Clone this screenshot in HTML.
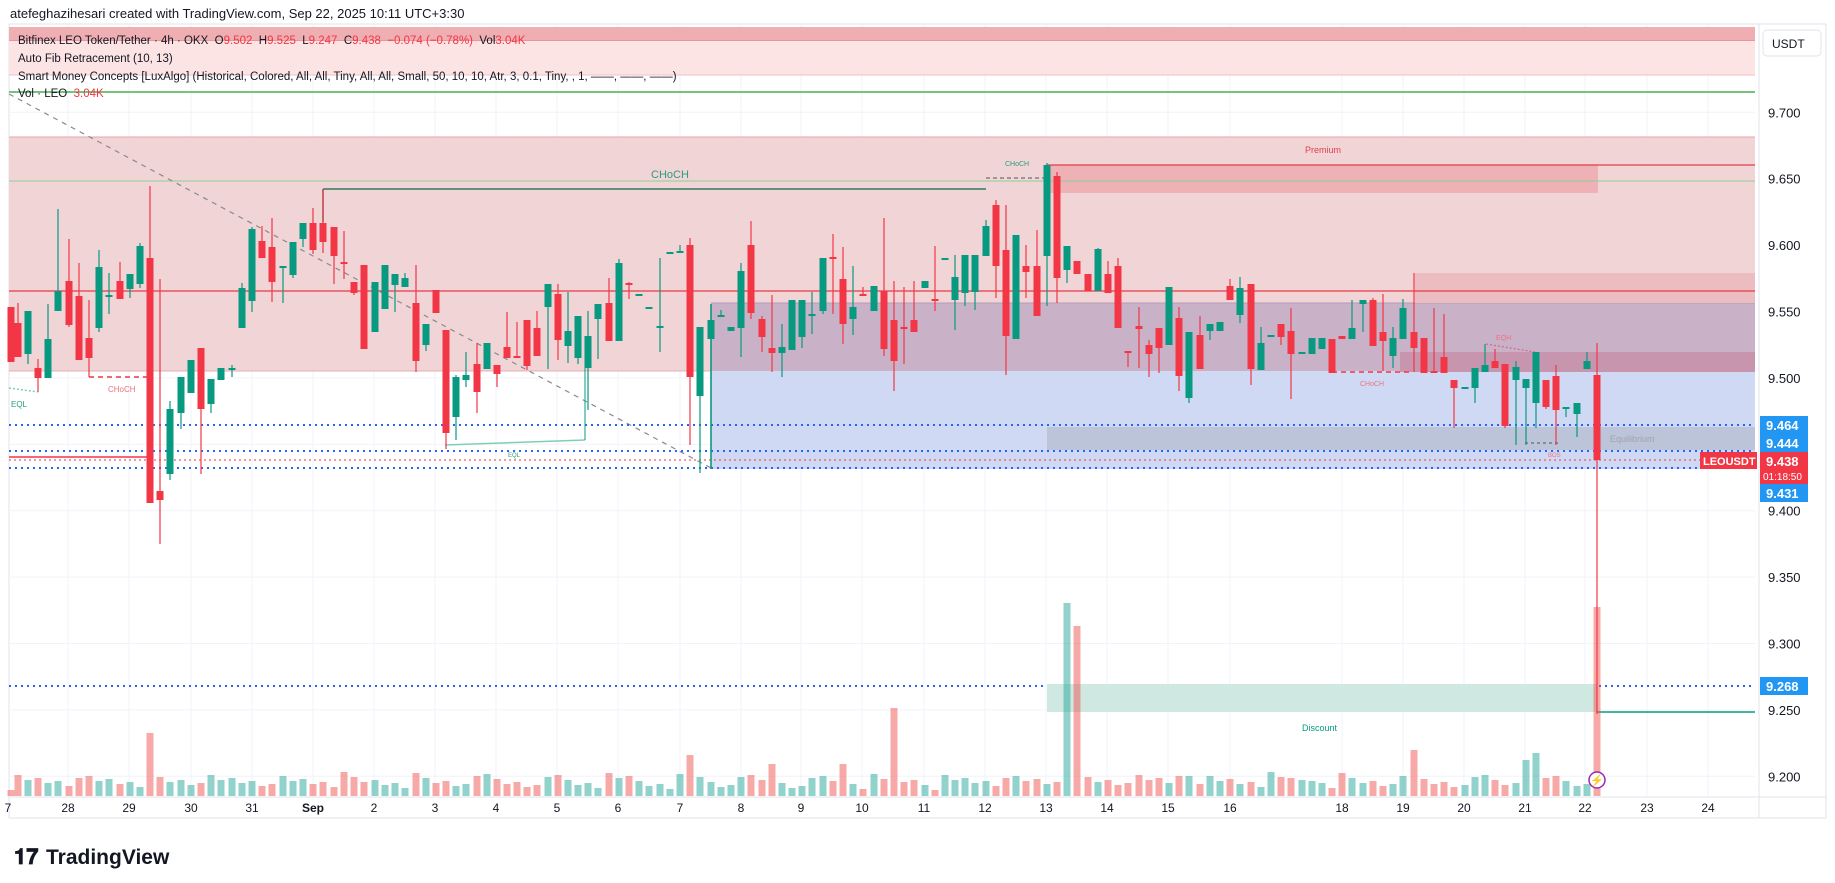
<!DOCTYPE html>
<html><head><meta charset="utf-8">
<style>
html,body{margin:0;padding:0;background:#fff;}
body{width:1835px;height:883px;overflow:hidden;position:relative;font-family:"Liberation Sans",sans-serif;}
svg{position:absolute;left:0;top:0;}
</style></head>
<body>
<svg id="s" width="1835" height="883" xmlns="http://www.w3.org/2000/svg" font-family="Liberation Sans, sans-serif"></svg>
<script>
const S=document.getElementById('s');let h='';
function r(x,y,w,hh,f,extra){h+=`<rect x="${x}" y="${y}" width="${w}" height="${hh}" fill="${f}" ${extra||''}/>`;}
function l(x1,y1,x2,y2,c,w,extra){h+=`<line x1="${x1}" y1="${y1}" x2="${x2}" y2="${y2}" stroke="${c}" stroke-width="${w||1}" ${extra||''}/>`;}
function t(x,y,s,c,fs,extra){h+=`<text x="${x}" y="${y}" fill="${c}" font-size="${fs}" ${extra||''}>${s}</text>`;}
const R=1755,L=9;
r(0,0,1835,883,'#fff');
l(9,24,1826,24,'#e0e3eb');l(1826,24,1826,818,'#e0e3eb');l(9,24,9,818,'#e0e3eb');l(9,818,1826,818,'#e0e3eb');
l(1759,24,1759,818,'#e0e3eb');l(9,797,1826,797,'#e0e3eb');
const dates=[[8,'7'],[68,'28'],[129,'29'],[191,'30'],[252,'31'],[313,'Sep'],[374,'2'],[435,'3'],[496,'4'],[557,'5'],[618,'6'],[680,'7'],[741,'8'],[801,'9'],[862,'10'],[924,'11'],[985,'12'],[1046,'13'],[1107,'14'],[1168,'15'],[1230,'16'],[1342,'18'],[1403,'19'],[1464,'20'],[1525,'21'],[1585,'22'],[1647,'23'],[1708,'24']];
dates.forEach(d=>{if(d[0]>10)l(d[0],24,d[0],797,'#f0f3fa');});
const Y=p=>112.3+(9.7-p)*1328;
[9.7,9.65,9.6,9.55,9.5,9.45,9.4,9.35,9.3,9.25,9.2].forEach(p=>l(L,Y(p),R,Y(p),'#f0f3fa'));
r(L,27,R-L,14,'#eeaeb2');l(L,41,R,41,'#e57c84');
r(L,41,R-L,34,'#fde4e4');l(L,75,R,75,'#f2c2c5');
l(L,92,R,92,'#4caf50',1.5);
r(L,137,R-L,234,'#f1d4d6');l(L,137,R,137,'#e8a5aa');l(L,371,R,371,'#e3b0b4');
r(711,371,R-711,98,'#d0d9f3');
r(711,303,R-711,68,'#c9b2c8');
l(711,303,R,303,'#b79ab8');
r(1415,273,R-1415,30,'#ebbcc0');
r(1400,352,R-1400,20,'#c795ae');
r(1047,165,1598-1047,28,'#eeb2b6');
l(1047,165,R,165,'#e53946',1.2);
l(L,181,R,181,'#8fcf95',1);
l(323,189,986,189,'#2e7d5e',1.5);l(323,189,323,222,'#2e7d5e',1.5);
l(986,178,1047,178,'#555',1,'stroke-dasharray="4,3"');
t(651,178,'CHoCH','#2a9d7f',11);t(1005,166,'CHoCH','#2a9d7f',7);
t(1305,153,'Premium','#e04050',9);
l(L,291,R,291,'#e53946',1.3);
r(1047,427,R-1047,23,'rgba(120,123,134,0.22)');
t(1610,442,'Equilibrium','#a0a3ad',9);
l(9,94,711,468,'#8a8a8a',1.2,'stroke-dasharray="5,5"');
l(L,425,R,425,'#2962ff',2,'stroke-dasharray="2,4"');
l(L,451,R,451,'#2962ff',2,'stroke-dasharray="2,4"');
l(L,468,R,468,'#2962ff',2,'stroke-dasharray="2,4"');
l(L,460,R,460,'#f23645',1,'stroke-dasharray="2,3"');
l(L,457,147,457,'#f23645',1.5);
l(L,686,R,686,'#2962ff',2,'stroke-dasharray="2,4"');
r(1047,684,1597-1047,28,'#cfe9e2');
t(1302,731,'Discount','#089981',9);
l(1597,712,R,712,'#089981',1.5);
l(89,377,147,377,'#f23645',1.5,'stroke-dasharray="5,4"');t(108,392,'CHoCH','#f07080',8);
l(9,388,38,392,'#7fcfb8',1.5,'stroke-dasharray="2,2"');t(11,407,'EQL','#2a9d7f',8);
l(445,445,585,440,'#7fcfb8',1.5);l(585,351,585,440,'#089981',1);
t(508,457,'EQL','#2a9d7f',6);
l(711,304,711,469,'#089981',1.5);
l(1332,372,1410,372,'#f23645',1.5,'stroke-dasharray="5,4"');t(1360,386,'CHoCH','#f07080',7);
l(1486,344,1535,352,'#e06080',1.2,'stroke-dasharray="2,2"');t(1496,340,'EQH','#f07080',7);
l(1525,443,1560,443,'#555',1,'stroke-dasharray="3,3"');t(1548,457,'BOS','#f07080',6);
const C=[[11,307,362,307,362,0],[18,323,357,303,357,0],[28,311,354,311,364,1],[38,368,378,359,392,0],[48,339,378,304,378,1],[58,291,311,209,311,1],[69,281,325,239,327,0],[79,296,360,263,360,0],[89,338,358,300,377,0],[99,267,328,250,332,1],[109,295,297,273,314,1],[120,281,299,262,299,0],[130,274,289,274,298,1],[140,246,284,243,288,1],[150,258,503,186,503,0],[160,491,500,279,544,0],[170,409,474,401,480,1],[181,377,413,377,429,1],[191,360,393,360,393,1],[201,348,409,348,474,0],[211,379,404,379,413,1],[221,368,380,368,380,1],[232,368,370,365,377,1],[242,288,328,283,328,1],[252,229,301,227,312,1],[262,241,258,226,258,0],[272,247,282,218,302,0],[283,266,268,266,303,1],[293,242,275,242,278,1],[303,223,239,223,247,1],[313,223,250,208,254,0],[323,223,242,189,253,0],[334,227,256,227,284,0],[344,262,264,231,279,0],[354,282,293,282,295,0],[364,265,349,265,349,0],[375,282,332,282,332,1],[385,265,309,265,309,1],[395,274,285,274,312,1],[405,278,287,273,287,1],[416,303,361,265,372,0],[426,324,345,324,351,1],[436,290,313,290,313,0],[446,330,433,330,449,0],[456,377,417,375,440,1],[466,375,380,352,387,1],[477,364,392,343,413,0],[487,343,369,343,369,1],[497,365,374,365,387,0],
[507,347,358,312,358,0],[517,356,358,322,358,0],[527,320,366,320,370,0],[537,328,356,311,356,0],[548,284,307,284,369,1],[558,294,340,284,360,0],[568,331,346,292,363,1],[578,316,358,316,364,1],[588,336,368,311,410,1],[598,304,319,304,359,1],[609,303,341,278,341,0],[619,263,341,259,341,1],[629,283,285,282,299,0],[639,294,296,294,296,1],[649,307,309,307,309,1],[660,326,328,258,352,1],[670,252,254,252,254,1],[680,251,253,245,253,1],[690,245,377,238,445,0],[700,327,396,327,473,1],[711,320,339,304,469,1],[721,315,317,310,317,1],[731,327,331,327,331,1],[741,271,328,263,357,1],[751,245,313,221,319,0],[762,319,337,316,352,0],[772,348,353,295,372,0],[782,347,353,324,377,1],[792,300,350,300,350,1],[802,300,337,300,348,1],[812,314,316,292,334,1],[823,258,311,258,314,1],[833,257,259,234,314,0],[843,279,324,247,344,0],[853,307,319,266,335,1],[863,294,296,287,296,0],[874,286,311,286,311,1],[884,291,349,218,356,0],[894,320,361,281,391,0],[904,327,329,287,364,0],[914,320,332,281,332,0],[925,281,288,281,288,1],[935,299,301,246,311,0],[945,258,260,258,260,1],[955,277,300,255,330,1],[965,255,293,255,306,1],[975,255,292,255,310,1],
[986,226,256,220,256,1],[996,205,266,200,298,0],[1006,250,336,205,375,0],[1016,235,339,235,339,1],[1026,266,272,245,298,0],[1037,266,316,230,316,0],[1047,165,256,163,306,1],[1057,176,278,172,303,0],[1067,246,270,246,283,1],[1077,261,274,261,274,0],[1088,274,291,274,291,0],[1098,249,291,248,291,1],[1108,274,293,261,293,0],[1118,266,328,258,328,0],[1128,351,353,351,367,0],[1139,326,329,307,368,0],[1149,345,354,340,377,0],[1159,328,348,328,373,0],[1169,287,345,287,345,1],[1179,318,376,307,391,0],[1189,332,398,332,403,1],[1200,335,369,316,369,0],[1210,324,331,324,340,1],[1220,322,331,322,331,1],[1230,286,300,279,300,0],[1240,288,315,277,323,1],[1251,284,369,284,385,0],[1261,343,370,327,370,1],[1271,335,337,335,337,1],[1281,324,337,324,345,0],[1291,331,354,308,399,0],[1302,352,354,352,354,1],[1312,338,354,338,354,1],[1322,338,349,338,349,1],[1332,339,373,339,373,0],[1342,336,339,336,339,0],[1352,328,339,300,339,1],[1363,300,304,300,332,1],[1373,300,346,298,346,0],[1383,332,341,294,371,0],[1393,338,356,327,368,1],[1403,308,339,299,339,1],
[1414,332,348,273,372,0],[1424,338,373,338,373,0],[1434,371,373,308,373,0],[1444,357,373,314,373,0],[1454,380,388,380,428,0],[1465,387,389,387,389,1],[1475,368,388,368,403,1],[1485,365,372,344,372,1],[1495,361,368,349,368,0],[1505,364,426,364,428,0],[1516,367,380,361,445,1],[1526,379,388,379,445,1],[1536,352,403,352,428,1],[1546,380,407,380,409,0],[1556,376,410,365,445,0],[1566,407,409,407,417,1],[1577,403,414,403,437,1],[1587,361,369,352,369,1],[1597,375,460,343,714,0]];
const spikes={150:63,335:52,689:41,690:41,771:32,772:32,841:32,843:32,893:88,894:88,1067:193,1077:170,1412:46,1414:46,1536:43,1597:189,1291:18,1312:15,1526:36,1455:28,1179:20,1189:20};
let vh='';
C.forEach((c,i)=>{let v=spikes[c[0]]||(6+((i*37)%13)+((i*11)%7));const col=c[5]?'rgba(38,166,154,0.5)':'rgba(239,83,80,0.5)';vh+=`<rect x="${c[0]-3.5}" y="${796-v}" width="7" height="${v}" fill="${col}"/>`;});
h+=vh;
C.forEach(c=>{const col=c[5]?'#089981':'#f23645';l(c[0],c[3],c[0],c[4],col,1.2);r(c[0]-3.5,c[1],7,Math.max(1.5,c[2]-c[1]),col);});
h+=`<circle cx="1597" cy="780" r="8" fill="#fff" stroke="#9c27b0" stroke-width="1.5"/><text x="1597" y="784" font-size="11" fill="#9c27b0" text-anchor="middle">⚡</text>`;
[[9.7],[9.65],[9.6],[9.55],[9.5],[9.4],[9.35],[9.3],[9.25],[9.2]].forEach(p=>t(1768,Y(p[0])+5,p[0].toFixed(3),'#131722',13));
r(1763,30,58,26,'#fff','stroke="#e0e3eb" rx="4"');t(1772,48,'USDT','#131722',12);
function tag(y,s,bg){r(1760,y-9,48,18,bg);t(1766,y+5,s,'#fff',13,'font-weight="bold"');}
tag(425,'9.464','#2196f3');tag(443,'9.444','#2196f3');
r(1700,452,57,17,'#f23645');t(1703,465,'LEOUSDT','#fff',11,'font-weight="bold"');
r(1760,452,48,32,'#f23645');t(1766,466,'9.438','#fff',13,'font-weight="bold"');t(1763,480,'01:18:50','#fff',10);
tag(493,'9.431','#2196f3');tag(686,'9.268','#2196f3');
dates.forEach(d=>t(d[0],812,d[1],'#131722',12,'text-anchor="middle"'+(d[1]=='Sep'?' font-weight="bold"':'')));
t(10,18,'atefeghazihesari created with TradingView.com, Sep 22, 2025 10:11 UTC+3:30','#131722',13);
t(18,44,'Bitfinex LEO Token/Tether · 4h · OKX  O<tspan fill="#f23645">9.502</tspan>  H<tspan fill="#f23645">9.525</tspan>  L<tspan fill="#f23645">9.247</tspan>  C<tspan fill="#f23645">9.438  −0.074 (−0.78%)</tspan>  Vol<tspan fill="#f23645">3.04K</tspan>','#131722',11.5,'xml:space="preserve"');
t(18,62,'Auto Fib Retracement (10, 13)','#131722',11.5);
t(18,80,'Smart Money Concepts [LuxAlgo] (Historical, Colored, All, All, Tiny, All, All, Small, 50, 10, 10, Atr, 3, 0.1, Tiny, , 1, ——, ——, ——)','#131722',11.5);
t(18,97,'Vol · LEO  <tspan fill="#f23645">3.04K</tspan>','#131722',11.5,'xml:space="preserve"');
t(14,864,'<tspan font-weight="bold" font-size="22">𝟏𝟕</tspan>','#131722',22);
t(46,864,'TradingView','#131722',21,'font-weight="bold"');
S.innerHTML=h;
</script>
</body></html>
